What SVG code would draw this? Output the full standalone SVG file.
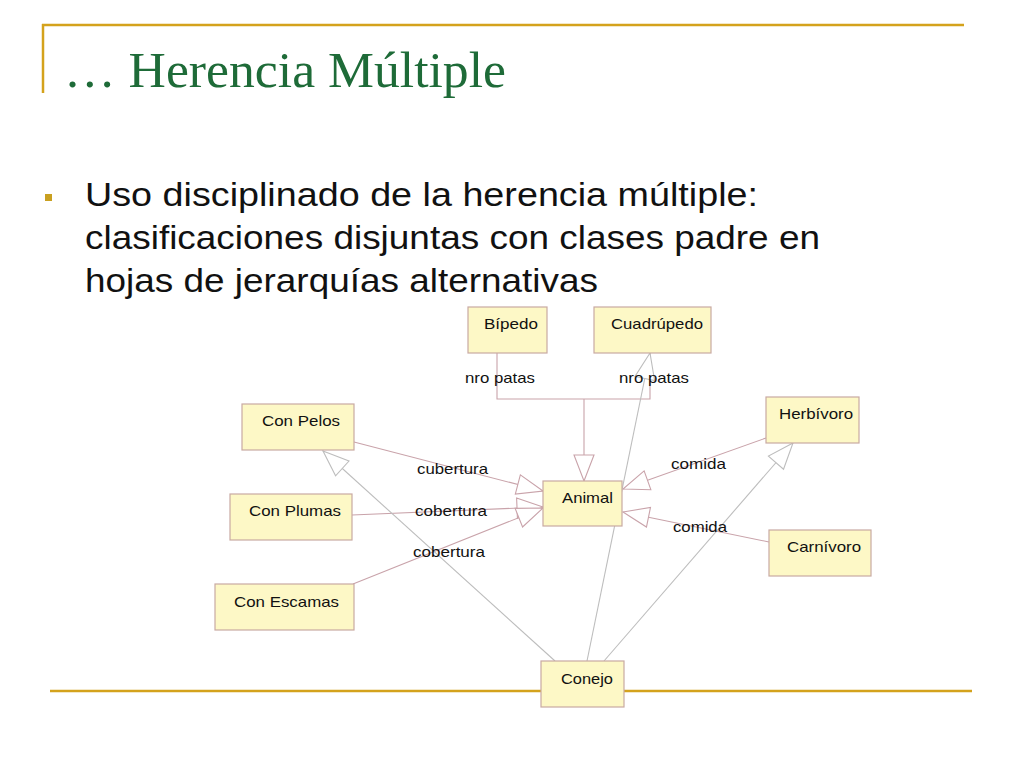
<svg xmlns="http://www.w3.org/2000/svg" width="1024" height="768" viewBox="0 0 1024 768">
<defs>
<style>
.node rect{fill:#fdf8c6;stroke:#c9aaa2;stroke-width:1.2}
.node text,.lbl{font-family:"Liberation Sans",Arial,sans-serif;font-size:15px;fill:#111}
.c{fill:none;stroke:#c9a3aa;stroke-width:1.1}
.g{fill:none;stroke:#bdbdbd;stroke-width:1.1}
.gold{stroke:#d4a21c;stroke-width:2.5;fill:none}
.body{font-family:"Liberation Sans",Arial,sans-serif;font-size:33px;fill:#111}
</style>
<marker id="tp" markerUnits="userSpaceOnUse" markerWidth="30" markerHeight="24" viewBox="-28 -12 30 24" refX="0" refY="0" orient="auto">
<path d="M0,0 L-26,-10 L-26,10 Z" fill="#fff" stroke="#c9a3aa" stroke-width="1.1"/>
</marker>
<marker id="tg" markerUnits="userSpaceOnUse" markerWidth="30" markerHeight="24" viewBox="-28 -12 30 24" refX="0" refY="0" orient="auto">
<path d="M0,0 L-26,-10 L-26,10 Z" fill="#fff" stroke="#bdbdbd" stroke-width="1.1"/>
</marker>
</defs>
<rect width="1024" height="768" fill="#fff"/>
<g id="frame">
<line class="gold" x1="42" y1="25" x2="964" y2="25"/>
<line class="gold" x1="43" y1="24" x2="43" y2="93"/>
<line class="gold" x1="50" y1="691" x2="972" y2="691"/>
</g>
<text x="64" y="87" font-family="Liberation Serif,'Times New Roman',serif" font-size="50" fill="#1e6b38" textLength="442" lengthAdjust="spacingAndGlyphs">… Herencia Múltiple</text>
<rect x="45" y="194" width="7" height="7" fill="#c9a020"/>
<text class="body" x="85" y="206" textLength="673" lengthAdjust="spacingAndGlyphs">Uso disciplinado de la herencia múltiple:</text>
<text class="body" x="85" y="249" textLength="735" lengthAdjust="spacingAndGlyphs">clasificaciones disjuntas con clases padre en</text>
<text class="body" x="85" y="292" textLength="513" lengthAdjust="spacingAndGlyphs">hojas de jerarquías alternativas</text>
<g id="connectors">
<polyline class="c" points="497,353 497,399 650,399 650,353"/>
<line class="c" x1="584" y1="399" x2="584" y2="481" marker-end="url(#tp)"/>
<line class="c" x1="354" y1="442" x2="543" y2="491" marker-end="url(#tp)"/>
<line class="c" x1="352" y1="515" x2="543" y2="507" marker-end="url(#tp)"/>
<line class="c" x1="353" y1="584" x2="543" y2="508" marker-end="url(#tp)"/>
<line class="c" x1="766" y1="438" x2="623" y2="489" marker-end="url(#tp)"/>
<line class="c" x1="769" y1="542" x2="623" y2="512" marker-end="url(#tp)"/>
<line class="g" x1="555" y1="661" x2="323" y2="451" marker-end="url(#tg)"/>
<line class="g" x1="587" y1="661" x2="650" y2="353" marker-end="url(#tg)"/>
<line class="g" x1="604" y1="661" x2="793" y2="443" marker-end="url(#tg)"/>
<text class="lbl" x="465" y="383" textLength="70" lengthAdjust="spacingAndGlyphs">nro patas</text>
<text class="lbl" x="619" y="383" textLength="70" lengthAdjust="spacingAndGlyphs">nro patas</text>
<text class="lbl" x="417" y="474" textLength="71" lengthAdjust="spacingAndGlyphs">cubertura</text>
<text class="lbl" x="415" y="516" textLength="72" lengthAdjust="spacingAndGlyphs">cobertura</text>
<text class="lbl" x="413" y="557" textLength="72" lengthAdjust="spacingAndGlyphs">cobertura</text>
<text class="lbl" x="671" y="469" textLength="55" lengthAdjust="spacingAndGlyphs">comida</text>
<text class="lbl" x="673" y="532" textLength="54" lengthAdjust="spacingAndGlyphs">comida</text>
</g>
<g id="bipedo" class="node"><rect x="468" y="307" width="79" height="46"/><text x="484" y="329" textLength="54" lengthAdjust="spacingAndGlyphs">Bípedo</text></g>
<g id="cuadrupedo" class="node"><rect x="594" y="307" width="117" height="46"/><text x="611" y="329" textLength="92" lengthAdjust="spacingAndGlyphs">Cuadrúpedo</text></g>
<g id="conpelos" class="node"><rect x="242" y="404" width="112" height="46"/><text x="262" y="426" textLength="78" lengthAdjust="spacingAndGlyphs">Con Pelos</text></g>
<g id="herbivoro" class="node"><rect x="766" y="397" width="93" height="46"/><text x="779" y="419" textLength="74" lengthAdjust="spacingAndGlyphs">Herbívoro</text></g>
<g id="animal" class="node"><rect x="543" y="481" width="79" height="45"/><text x="562" y="503" textLength="51" lengthAdjust="spacingAndGlyphs">Animal</text></g>
<g id="conplumas" class="node"><rect x="230" y="494" width="122" height="46"/><text x="249" y="516" textLength="92" lengthAdjust="spacingAndGlyphs">Con Plumas</text></g>
<g id="carnivoro" class="node"><rect x="769" y="530" width="102" height="46"/><text x="787" y="552" textLength="74" lengthAdjust="spacingAndGlyphs">Carnívoro</text></g>
<g id="conescamas" class="node"><rect x="215" y="584" width="139" height="46"/><text x="234" y="607" textLength="105" lengthAdjust="spacingAndGlyphs">Con Escamas</text></g>
<g id="conejo" class="node"><rect x="541" y="661" width="83" height="46"/><text x="561" y="684" textLength="52" lengthAdjust="spacingAndGlyphs">Conejo</text></g>
</svg>
